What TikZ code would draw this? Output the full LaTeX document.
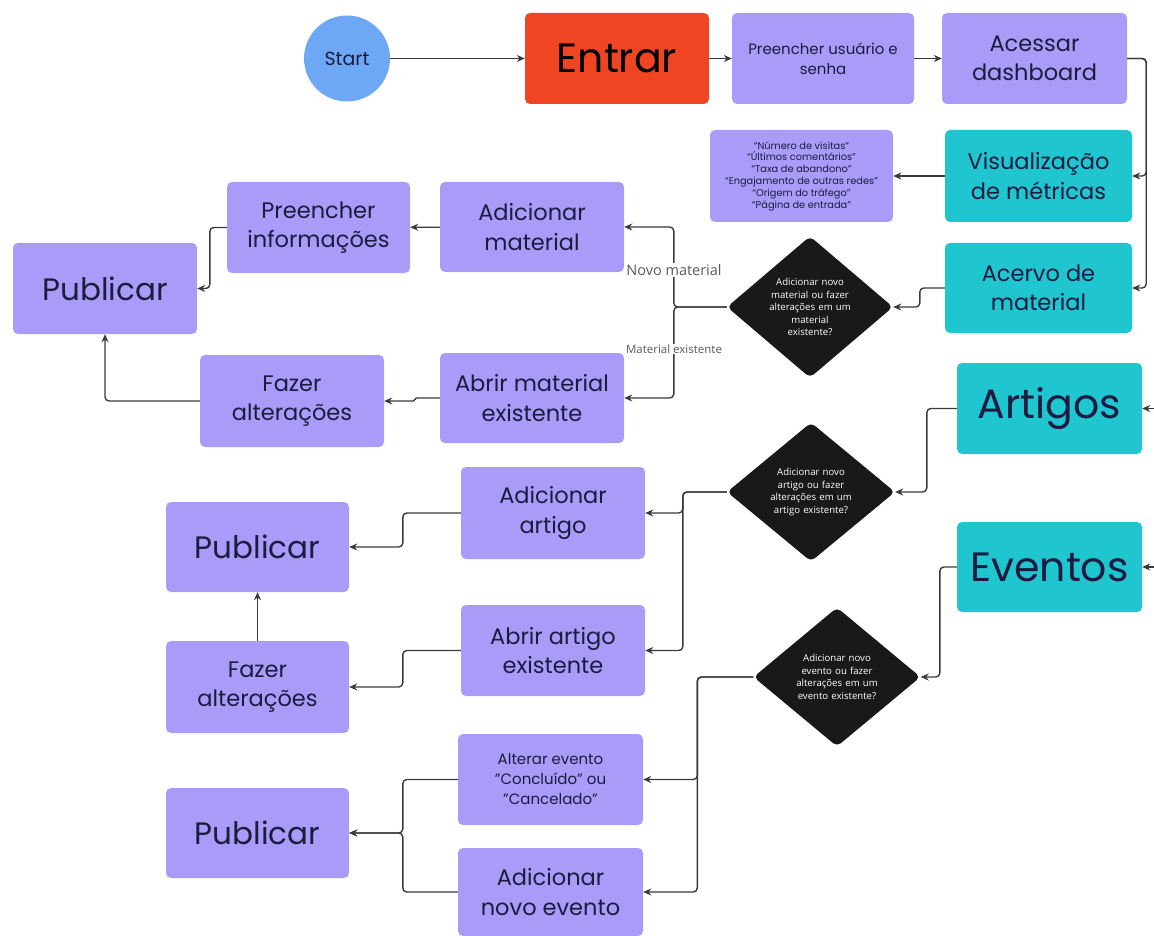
\documentclass[tikz,border=0pt]{standalone}
\usepackage{fontspec}
\setmainfont{Poppins}
\newfontfamily\dfont{Open Sans}
\usetikzlibrary{arrows.meta,shapes.geometric}

\definecolor{purp}{HTML}{A89CF8}
\definecolor{cyanbox}{HTML}{1FC6D0}
\definecolor{redbox}{HTML}{EF4523}
\definecolor{startblue}{HTML}{6EA8F4}
\definecolor{ink}{HTML}{1D1B3F}
\definecolor{wire}{HTML}{3A3A3A}
\definecolor{lbl}{HTML}{5A5A5A}

\newcommand{\fs}[2]{\fontsize{#1}{#2}\selectfont}
\newcommand{\dq}{\symbol{34}}

\tikzset{
  box/.style={rectangle, rounded corners=5pt, fill=purp, text=ink, align=center,
              inner sep=2pt, minimum width=184pt, minimum height=91pt},
  cbox/.style={box, fill=cyanbox},
  decision/.style={diamond, fill=black!90, text=white, align=center, rounded corners=5pt,
              inner sep=0pt, minimum width=166pt, minimum height=139pt,
              text width=84pt, font=\dfont\fs{9.6}{12.5}},
  big/.style={font=\fs{41}{46}},
  pubtxt/.style={font=\fs{31}{36}},
  mid/.style={font=\fs{22.5}{29.5}},
  small/.style={font=\fs{15}{20}},
  flow/.style={draw=wire, line width=1.4pt, rounded corners=4pt,
               -{Stealth[length=8pt,width=7pt]}},
  branchlbl/.style={fill=white, text=lbl, inner sep=1pt, font=\dfont}
}

\begin{document}
\begin{tikzpicture}[x=1pt,y=-1pt]
\useasboundingbox (0,0) rectangle (1154,936);

% top row
\node[circle, fill=startblue, text=ink, minimum size=86pt, inner sep=0pt, font=\fs{19}{22}] (start) at (347,58.5) {Start};
\node[box, fill=redbox, text=black, big] (entrar) at (617,58.5) {Entrar};
\node[box, small, minimum width=182pt] (login) at (823,58.5) {Preencher usuário e\\senha};
\node[box, mid, minimum width=185pt] (dash) at (1034.5,58.5) {Acessar\\dashboard};

% dashboard branches
\node[cbox, mid, minimum width=187pt, minimum height=92pt] (visual) at (1038.5,176) {Visualização\\de métricas};
\node[box, minimum width=183pt, minimum height=92pt, font=\fs{9.8}{11.8}] (metrics) at (801.5,176)
  {“Número de visitas”\\“Últimos comentários”\\“Taxa de abandono”\\“Engajamento de outras redes”\\“Origem do tráfego”\\“Página de entrada”};
\node[cbox, mid, minimum width=187pt, minimum height=90pt] (acervo) at (1038.5,288) {Acervo de\\material};

% material section
\node[decision] (dmat) at (810,307) {Adicionar novo\\material ou fazer\\alterações em um\\material\\existente?};
\node[box, mid, minimum height=90pt] (addmat) at (532,227) {Adicionar\\material};
\node[box, mid, minimum width=183pt] (prinfo) at (318.5,227.5) {Preencher\\informações};
\node[box, pubtxt] (pub1) at (105,288.5) {Publicar};
\node[box, mid, minimum height=92pt] (faz1) at (292,401) {Fazer\\alterações};
\node[box, mid, minimum height=90pt] (abrmat) at (532,398) {Abrir material\\existente};

% articles section
\node[cbox, big, minimum width=185pt] (artigos) at (1049.5,408.5) {Artigos};
\node[decision, minimum width=168pt] (dart) at (811,492) {Adicionar novo\\artigo ou fazer\\alterações em um\\artigo existente?};
\node[box, mid, minimum height=92pt] (addart) at (553,513) {Adicionar\\artigo};
\node[box, mid] (abrart) at (553,650.5) {Abrir artigo\\existente};
\node[box, pubtxt, minimum width=183pt, minimum height=90pt] (pub2) at (257.5,547) {Publicar};
\node[box, mid, minimum width=183pt, minimum height=92pt] (faz2) at (257.5,687) {Fazer\\alterações};

% events section
\node[cbox, big, minimum width=185pt, minimum height=90pt] (eventos) at (1049.5,567) {Eventos};
\node[decision, minimum width=167pt] (dev) at (837,677) {Adicionar novo\\evento ou fazer\\alterações em um\\evento existente?};
\node[box, small, minimum width=185pt] (alterar) at (550.5,779.5) {Alterar evento\\\dq Concluído\dq{} ou\\\dq Cancelado\dq};
\node[box, mid, minimum width=185pt, minimum height=88pt] (addev) at (550.5,892) {Adicionar\\novo evento};
\node[box, pubtxt, minimum width=183pt, minimum height=90pt] (pub3) at (257.5,833) {Publicar};

% incoming ends from the right edge
\coordinate (artin) at (1160,408.5);
\coordinate (evin) at (1160,567);

% connectors: top row
\draw[flow] (start) -- (entrar);
\draw[flow] (entrar) -- (login);
\draw[flow] (login) -- (dash);
\draw[flow] (dash.east) -- ++(19,0) |- (visual.east);
\draw[flow] (dash.east) -- ++(19,0) |- (acervo.east);
\draw[flow] (visual) -- (metrics);

% connectors: material
\draw[flow] (acervo.west) -- ++(-25,0) |- (dmat.east);
\draw[flow] (dmat.west) -- ++(-53,0) |- (addmat.east);
\draw[flow] (dmat.west) -- ++(-53,0) |- (abrmat.east);
\node[branchlbl, font=\dfont\fs{14.5}{16}] (lnovo) at (674,270) {Novo material};
\node[branchlbl, font=\dfont\fs{11.5}{13}] (lexist) at (674,349) {Material existente};
\draw[flow] (addmat) -- (prinfo);
\draw[flow] (prinfo.west) -- ++(-17,0) |- (pub1.east);
\draw[flow] (faz1.west) -| (pub1.south);
\draw[flow, rounded corners=1.5pt] (abrmat.west) -- ++(-25,0) |- (faz1.east);

% connectors: articles
\draw[flow] (artin) -- (artigos.east);
\draw[flow] (artigos.west) -- ++(-30,0) |- (dart.east);
\draw[flow] (dart.west) -- ++(-44,0) |- (addart.east);
\draw[flow] (dart.west) -- ++(-44,0) |- (abrart.east);
\draw[flow] (addart.west) -- ++(-58,0) |- (pub2.east);
\draw[flow] (abrart.west) -- ++(-58,0) |- (faz2.east);
\draw[flow] (faz2) -- (pub2);

% connectors: events
\draw[flow] (evin) -- (eventos.east);
\draw[flow] (eventos.west) -- ++(-17,0) |- (dev.east);
\draw[flow] (dev.west) -- ++(-56,0) |- (alterar.east);
\draw[flow] (dev.west) -- ++(-56,0) |- (addev.east);
\draw[flow] (alterar.west) -- ++(-55,0) |- (pub3.east);
\draw[flow] (addev.west) -- ++(-55,0) |- (pub3.east);
\end{tikzpicture}
\end{document}
